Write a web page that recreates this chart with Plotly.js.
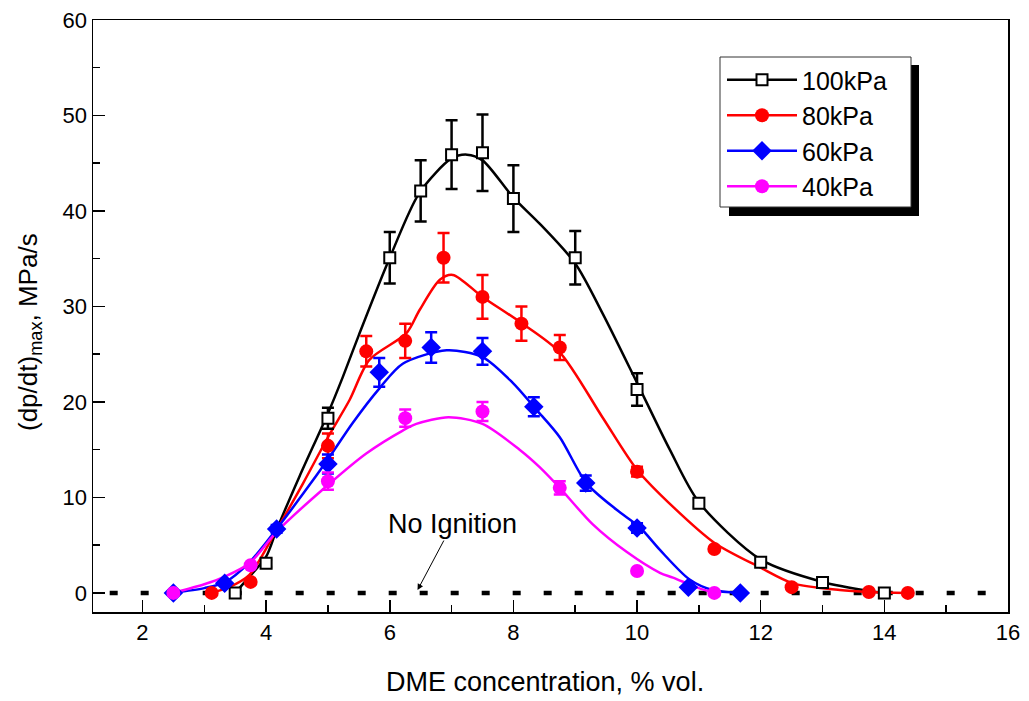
<!DOCTYPE html>
<html>
<head>
<meta charset="utf-8">
<script src="https://cdn.plot.ly/plotly-3.0.1.min.js"></script>
<style>html,body{margin:0;padding:0;background:#fff;}#chart{width:1029px;height:701px;}</style>
</head>
<body>
<div id="chart"></div>
<script>
// ---- measured points ----
const seriesNames = ['100kPa', '80kPa', '60kPa', '40kPa'];
const seriesColors = ['#000000', '#ff0000', '#0000ff', '#ff00ff'];

const x100 = [3.5, 4, 5, 6, 6.5, 7, 7.5, 8, 9, 10, 11, 12, 13, 14];
const y100 = [0, 3.1, 18.3, 35.1, 42.1, 45.9, 46.1, 41.3, 35.1, 21.3, 9.4, 3.2, 1.1, 0];
const e100 = [0, 0.4, 1.1, 2.7, 3.2, 3.6, 4.0, 3.5, 2.8, 1.7, 0.4, 0.4, 0, 0];

const x80 = [3.12, 3.75, 5, 5.62, 6.25, 6.87, 7.5, 8.13, 8.75, 10, 11.25, 12.5, 13.75, 14.38];
const y80 = [0, 1.15, 15.4, 25.3, 26.4, 35.1, 31.0, 28.2, 25.7, 12.7, 4.6, 0.6, 0.1, 0];
const e80 = [0, 0, 1.3, 1.6, 1.8, 2.6, 2.3, 1.8, 1.3, 0.5, 0, 0, 0, 0];

const x60 = [2.5, 3.33, 4.17, 5, 5.83, 6.67, 7.5, 8.33, 9.17, 10, 10.83, 11.67];
const y60 = [0, 1.0, 6.7, 13.5, 23.1, 25.7, 25.3, 19.5, 11.5, 6.8, 0.6, 0];
const e60 = [0, 0, 0.4, 1.0, 1.5, 1.6, 1.4, 1.0, 0.8, 0.5, 0, 0];

const x40 = [2.5, 3.75, 5, 6.25, 7.5, 8.75, 10, 11.25];
const y40 = [0, 2.9, 11.7, 18.3, 19.0, 11.0, 2.3, 0];
const e40 = [0, 0, 0.9, 0.9, 1.0, 0.7, 0, 0];

// ---- fitted curves ----
const fx100 = [3.5, 3.73, 4.0, 4.17, 4.54, 5.0, 5.24, 5.5, 6.0, 6.48, 7.0, 7.25, 7.5, 8.0, 8.42, 9.0, 9.44, 10.0, 10.53, 11.0, 12.0, 13.0, 13.76, 14.0];
const fy100 = [0, 1.7, 3.8, 6.6, 12.2, 18.8, 22.6, 27.0, 35.1, 41.9, 45.5, 45.9, 45.3, 41.4, 38.7, 34.5, 29.3, 22.0, 15.0, 9.5, 3.5, 1.15, 0.2, 0];

const fx80 = [3.12, 3.4, 3.73, 4.17, 4.6, 5.0, 5.35, 5.67, 6.27, 6.48, 6.81, 7.02, 7.5, 8.1, 8.75, 9.44, 10.0, 10.6, 11.26, 11.98, 12.52, 13.28, 13.76, 14.38];
const fy80 = [0, 0.6, 1.9, 6.6, 11.5, 16.3, 20.2, 24.4, 27.2, 29.6, 32.8, 33.3, 31.0, 28.4, 25.2, 18.4, 12.9, 8.9, 5.2, 2.7, 1.0, 0.3, 0.1, 0];

const fx60 = [2.5, 3.0, 3.33, 3.73, 4.17, 4.6, 5.0, 5.4, 5.83, 6.21, 6.92, 7.5, 7.99, 8.37, 8.75, 9.18, 9.67, 10.04, 10.37, 10.85, 11.22, 11.66];
const fy60 = [0, 0.5, 1.1, 3.2, 6.7, 10.4, 14.0, 17.8, 21.4, 24.0, 25.4, 24.7, 22.0, 19.2, 16.3, 11.5, 8.7, 6.9, 4.5, 1.4, 0.3, 0];

const fx40 = [2.5, 3.0, 3.33, 3.73, 4.17, 5.0, 5.62, 6.21, 6.43, 6.95, 7.5, 8.1, 8.42, 8.75, 9.28, 9.83, 10.37, 10.58, 11.0, 11.25];
const fy40 = [0, 0.9, 1.7, 3.1, 6.4, 11.3, 14.6, 17.0, 17.7, 18.4, 17.7, 15.0, 13.2, 11.0, 7.2, 4.3, 2.1, 1.6, 0.5, 0];

const xTickLabels = ['2', '4', '6', '8', '10', '12', '14', '16'];
const xTickVals = [2, 4, 6, 8, 10, 12, 14, 16];
const yTickVals = [0, 10, 20, 30, 40, 50, 60];
const yTickLabels = ['0', '10', '20', '30', '40', '50', '60'];

const xTitle = 'DME concentration, % vol.';
const yTitle = '(dp/dt)<sub>max</sub>, MPa/s';
const noteText = 'No Ignition';

const FONT = 'Arial, "Liberation Sans", Helvetica, sans-serif';

const pts = [[x100, y100, e100], [x80, y80, e80], [x60, y60, e60], [x40, y40, e40]];
const fits = [[fx100, fy100], [fx80, fy80], [fx60, fy60], [fx40, fy40]];
const markerDefs = [
  {symbol: 'square', size: 11, color: '#ffffff', line: {color: '#000000', width: 2}},
  {symbol: 'circle', size: 14, color: '#ff0000', line: {width: 0}},
  {symbol: 'diamond', size: 15, color: '#0000ff', line: {width: 0}},
  {symbol: 'circle', size: 14, color: '#ff00ff', line: {width: 0}}
];

const traces = [];
fits.forEach((f, i) => {
  traces.push({x: f[0], y: f[1], type: 'scatter', mode: 'lines', line: {color: seriesColors[i], width: 2.5, shape: 'spline', smoothing: 0.8}, showlegend: false, hoverinfo: 'skip'});
});
pts.forEach((p, i) => {
  traces.push({x: p[0], y: p[1], type: 'scatter', mode: 'markers', marker: markerDefs[i], showlegend: false, cliponaxis: false,
    error_y: {type: 'data', array: p[2], visible: true, color: seriesColors[i], thickness: 2.5, width: 6}});
});
seriesNames.forEach((n, i) => {
  traces.push({x: [null], y: [null], type: 'scatter', mode: 'lines+markers', name: n, line: {color: seriesColors[i], width: 2.5}, marker: markerDefs[i]});
});

const L = 93, R = 1008, T = 20, B = 612;
const pw = R - L, ph = B - T;
const px = v => (v - L) / pw;
const py = v => (B - v) / ph;

const layout = {
  width: 1029, height: 701,
  margin: {l: L, r: 1029 - R, t: T, b: 701 - B, pad: 0},
  paper_bgcolor: '#ffffff', plot_bgcolor: '#ffffff',
  font: {family: FONT, color: '#000000', size: 22},
  showlegend: true,
  legend: {x: px(722), y: py(57), xanchor: 'left', yanchor: 'top', bgcolor: 'rgba(0,0,0,0)', borderwidth: 0,
    font: {family: FONT, size: 25, color: '#000'}, itemwidth: 70, tracegroupgap: 0},
  xaxis: {range: [1.2, 16], tickvals: xTickVals, ticktext: xTickLabels, ticks: 'inside', ticklen: 12, tickwidth: 1.5, tickcolor: '#000',
    minor: {dtick: 1, tick0: 0, ticks: 'inside', ticklen: 7, tickwidth: 1.5, tickcolor: '#000', showgrid: false},
    showline: true, linecolor: '#000', linewidth: 1.5, mirror: true, showgrid: false, zeroline: false,
    tickfont: {family: FONT, size: 22}},
  yaxis: {range: [-2, 60], tickvals: yTickVals, ticktext: yTickLabels, ticks: 'inside', ticklen: 12, tickwidth: 1.5, tickcolor: '#000',
    minor: {dtick: 5, tick0: 0, ticks: 'inside', ticklen: 7, tickwidth: 1.5, tickcolor: '#000', showgrid: false},
    showline: true, linecolor: '#000', linewidth: 1.5, mirror: true, showgrid: false, zeroline: false,
    tickfont: {family: FONT, size: 22}},
  shapes: [
    {type: 'line', xref: 'x', yref: 'y', x0: 1.47, x1: 16, y0: 0, y1: 0, layer: 'below', line: {color: '#000', width: 4.5, dash: '8px,23px'}},
    {type: 'rect', xref: 'paper', yref: 'paper', x0: px(729), x1: px(919), y0: py(216), y1: py(65), fillcolor: '#000', line: {width: 0}, layer: 'above'},
    {type: 'rect', xref: 'paper', yref: 'paper', x0: px(720), x1: px(911), y0: py(207), y1: py(57), fillcolor: '#fff', line: {color: '#333', width: 1}, layer: 'above'}
  ],
  annotations: [
    {x: 6.45, y: 0.3, xref: 'x', yref: 'y', text: noteText, showarrow: true, ax: 35, ay: -66, axref: 'pixel', ayref: 'pixel',
      arrowhead: 2, arrowsize: 1.2, arrowwidth: 1, arrowcolor: '#000', font: {family: FONT, size: 27, color: '#000'}},
    {x: px(545), y: py(682), xref: 'paper', yref: 'paper', text: xTitle, showarrow: false, xanchor: 'center', yanchor: 'middle',
      font: {family: FONT, size: 27, color: '#000'}},
    {x: px(30), y: py(332), xref: 'paper', yref: 'paper', text: yTitle, showarrow: false, xanchor: 'center', yanchor: 'middle', textangle: -90,
      font: {family: FONT, size: 26, color: '#000'}}
  ]
};

Plotly.newPlot('chart', traces, layout, {displayModeBar: false, staticPlot: true});
</script>
</body>
</html>
